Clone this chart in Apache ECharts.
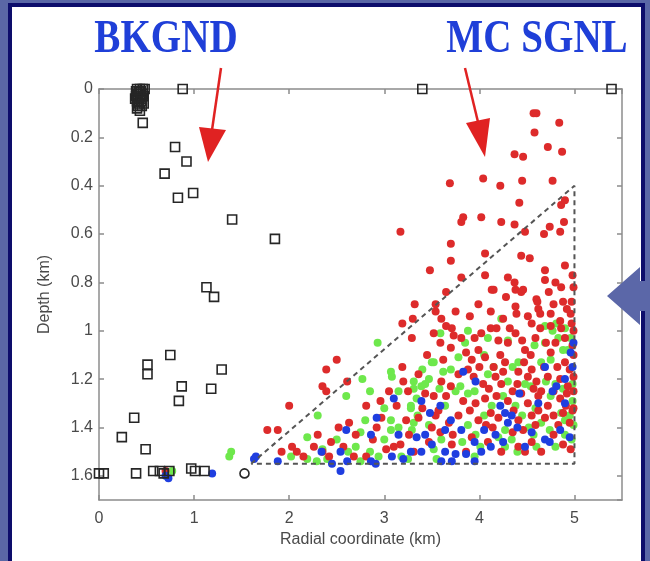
<!DOCTYPE html>
<html><head><meta charset="utf-8">
<script src="https://cdn.jsdelivr.net/npm/echarts@6/dist/echarts.min.js"></script>
<style>
html,body{margin:0;padding:0;width:650px;height:561px;overflow:hidden;background:#5a67a6;}
#frame{position:absolute;left:8px;top:3px;width:629px;height:570px;border:4px solid #0d0d6b;background:#fff;}
#chart{position:absolute;left:0;top:0;width:650px;height:561px;}
</style></head><body>
<div id="frame"></div><div id="chart"></div>
<script>
// ---- data (radial km, depth km) ----
const X_TICK_LABELS = ['0','1','2','3','4','5'];
const Y_TICK_LABELS = ['0','0.2','0.4','0.6','0.8','1','1.2','1.4','1.6'];

const BKGND = [
[0.40,0.00],[0.43,0.00],[0.46,0.00],[0.48,0.00],[0.39,0.01],[0.44,0.01],[0.41,0.02],[0.46,0.02],[0.39,0.03],[0.43,0.03],[0.41,0.04],[0.45,0.04],[0.40,0.05],[0.42,0.06],[0.40,0.08],[0.43,0.09],[0.46,0.14],
[0.42,0.01],[0.47,0.03],[0.38,0.04],[0.44,0.05],[0.47,0.06],[0.41,0.07],[0.45,0.07],
[0.88,0.00],[3.40,0.00],[5.39,0.00],
[0.80,0.24],[0.92,0.30],[0.69,0.35],[0.99,0.43],[0.83,0.45],[1.40,0.54],[1.85,0.62],[1.13,0.82],[1.21,0.86],
[0.75,1.10],[0.51,1.14],[1.29,1.16],[0.51,1.18],[0.87,1.23],[1.18,1.24],[0.84,1.29],[0.37,1.36],[0.24,1.44],[0.49,1.49],
[0.00,1.59],[0.05,1.59],[0.39,1.59],[0.57,1.58],[0.64,1.58],[0.68,1.59],[0.74,1.58],[0.97,1.57],[1.01,1.58],[1.11,1.58]
];
const BKGND_CIRCLE = [[1.53,1.59]];

const SIG_RED = [
[4.57,0.10],[4.60,0.10],[4.84,0.14],[4.58,0.18],[4.72,0.24],[4.87,0.26],[4.37,0.27],[4.46,0.28],
[3.69,0.39],[4.04,0.37],[4.22,0.40],[4.45,0.38],[4.77,0.38],
[4.42,0.47],[4.86,0.48],[4.90,0.46],
[3.81,0.55],[3.83,0.53],[4.02,0.53],[4.23,0.55],[4.37,0.56],[4.74,0.57],[4.89,0.55],[3.17,0.59],
[4.48,0.59],[4.68,0.60],[4.85,0.59],
[3.70,0.64],[3.70,0.71],[4.06,0.68],[4.44,0.69],[4.53,0.70],
[3.48,0.75],[4.06,0.77],[4.30,0.78],[4.37,0.80],[4.38,0.83],[4.46,0.83],[4.69,0.75],[4.69,0.79],[4.80,0.80],[4.86,0.82],[4.90,0.73],[4.98,0.77],[4.15,0.83],[3.65,0.84],[3.32,0.89],[3.99,0.89],[4.28,0.86],[4.60,0.87],[4.88,0.88],
[3.81,0.78],[4.13,0.83],[4.73,0.84],[4.44,0.84],[4.12,0.92],[4.38,0.90],[4.39,0.93],[4.61,0.88],[4.62,0.91],[4.51,0.94],[3.54,0.89],[3.54,0.92],[3.60,0.95],[3.19,0.97],[3.30,0.95],[4.64,0.93],[4.75,0.93],[4.85,0.96],[4.96,0.93],[4.97,0.97],
[3.29,1.03],[2.50,1.12],[2.39,1.16],[3.19,1.15],[2.61,1.21],[3.20,1.21],[2.35,1.23],[2.39,1.25],[2.00,1.31],[1.77,1.41],[1.88,1.41],[2.52,1.40],[2.63,1.38],[2.81,1.31],[2.96,1.29],[3.13,1.31],[2.97,1.36],[3.17,1.47],[1.92,1.50],[2.03,1.48],[2.08,1.50],[2.42,1.52],[2.68,1.52],[2.81,1.52],[3.02,1.49],[3.10,1.48],[3.26,1.43],[2.26,1.48],[2.44,1.46],[2.35,1.50],
[3.52,1.01],[3.59,1.05],[3.71,0.99],[3.73,1.02],[3.81,1.03],[4.02,1.01],[4.12,0.99],[4.18,0.99],[4.32,0.99],[4.38,1.01],[4.59,1.03],[4.64,0.99],[4.75,0.98],[4.86,0.99],[4.90,1.03],
[3.70,1.07],[3.86,1.09],[3.99,1.08],[4.06,1.11],[4.22,1.10],[4.27,1.13],[4.48,1.08],[4.54,1.10],[4.75,1.09],[4.90,1.13],[4.99,1.10],
[3.60,1.21],[3.70,1.23],[3.88,1.16],[3.94,1.19],[4.04,1.22],[4.17,1.19],[4.23,1.22],[4.41,1.17],[4.51,1.19],[4.60,1.21],[4.72,1.19],[4.85,1.20],[4.93,1.23],[4.99,1.19],[3.36,1.18],
[3.43,1.26],[3.52,1.27],[3.83,1.29],[3.96,1.30],[4.06,1.28],[4.18,1.27],[4.30,1.29],[4.44,1.26],[4.51,1.30],[4.62,1.27],[4.72,1.31],[4.85,1.28],[4.91,1.31],[3.57,1.33],
[3.36,1.36],[3.54,1.35],[3.68,1.38],[3.78,1.35],[3.99,1.37],[4.07,1.39],[4.20,1.36],[4.41,1.37],[4.46,1.41],[4.59,1.39],[4.69,1.36],[4.83,1.39],[4.95,1.38],[3.59,1.42],[3.47,1.46],
[3.31,1.50],[3.71,1.47],[3.86,1.50],[4.09,1.46],[4.23,1.50],[4.41,1.48],[4.48,1.50],[4.65,1.50],[4.96,1.49],
[4.80,1.05],[4.68,1.15],[4.95,1.16],[4.78,1.25],[4.57,1.24],[4.40,1.22],[4.88,1.34],[4.62,1.33],[4.30,1.05],[4.15,1.15],[3.92,1.12],[4.47,1.13],
[3.45,1.10],[3.62,1.12],[3.78,1.18],[4.00,1.15],[4.10,1.24],[4.25,1.17],[4.35,1.25],[4.55,1.16],[4.65,1.25],[4.82,1.15],[4.92,1.26],[4.70,1.05],[4.45,1.04],[4.20,1.04],[3.95,1.03],[3.65,0.98],[4.55,0.97],[4.92,0.91],[4.78,0.89],[4.25,0.95],[3.90,0.94],[3.75,0.92],
[3.50,1.40],[3.72,1.43],[3.92,1.44],[4.14,1.40],[4.35,1.42],[4.55,1.46],[4.78,1.43],[4.88,1.47],[3.40,1.32],[3.65,1.27],[3.90,1.33],[4.12,1.34],[4.36,1.33],[4.55,1.35],[4.78,1.35],[4.98,1.33],
[3.25,1.25],[3.05,1.25],[2.88,1.45],[2.70,1.43],[2.57,1.48],[2.30,1.43],[2.15,1.52],[2.92,1.40],[3.23,1.37],
[4.99,0.82],[4.97,0.88],[4.99,1.00],[4.98,1.06],[4.99,1.25],[4.99,1.32],
[0.70,1.58]
];

const SIG_GREEN = [
[2.93,1.05],[2.77,1.20],[3.08,1.19],[2.30,1.35],[2.19,1.44],[2.80,1.37],[3.07,1.37],[3.28,1.32],[2.94,1.52],[3.07,1.41],[2.70,1.48],[2.02,1.52],[2.19,1.53],[2.29,1.54],[3.18,1.52],[3.31,1.38],[1.39,1.50],[1.37,1.52],[2.35,1.49],[3.07,1.17],[3.31,1.24],[3.52,1.13],[3.47,1.20],[3.39,1.23],
[4.23,0.95],[4.81,0.97],[4.69,0.98],[4.90,0.99],[4.77,1.00],
[3.59,1.01],[3.88,1.00],[4.09,1.03],[4.30,1.04],[4.69,1.05],[4.83,1.03],[4.96,1.03],
[3.50,1.13],[3.78,1.11],[4.15,1.15],[4.41,1.13],[4.65,1.13],[4.93,1.08],
[3.31,1.21],[3.43,1.22],[3.80,1.23],[4.09,1.18],[4.30,1.21],[4.54,1.23],[4.80,1.22],[4.98,1.22],
[3.28,1.31],[3.34,1.28],[3.64,1.31],[3.75,1.25],[3.88,1.26],[4.13,1.31],[4.38,1.31],[4.59,1.32],[4.75,1.27],[4.98,1.29],[4.86,1.34],
[3.29,1.41],[3.47,1.39],[3.88,1.39],[3.96,1.43],[4.27,1.41],[4.34,1.45],[4.57,1.43],[4.74,1.41],[4.90,1.43],[4.99,1.39],
[3.52,1.49],[4.01,1.48],[4.27,1.48],[4.80,1.48],
[3.62,1.17],[3.70,1.16],[2.60,1.27],[2.85,1.25],[2.50,1.45],[2.75,1.42],[3.00,1.32],[3.15,1.25],
[3.40,1.16],[3.58,1.24],[3.95,1.25],[4.05,1.35],[4.25,1.27],[4.48,1.22],[4.70,1.21],[4.88,1.24],[4.95,1.35],[4.65,1.38],[4.45,1.35],[4.20,1.44],[3.82,1.46],[3.60,1.45],[3.35,1.35],[3.15,1.40],[3.00,1.45],[2.85,1.50],[2.62,1.50],[2.40,1.53],[4.52,1.40],[4.90,1.37],[4.97,1.45],[4.60,1.48],[4.40,1.50],[3.95,1.52],[3.55,1.53],[3.25,1.53],[2.75,1.54],[4.05,1.10],[4.58,1.06],[4.88,1.08],[3.85,1.05],[4.75,1.12],[4.35,1.15],
[0.77,1.58]
];

const SIG_BLUE = [
[2.60,1.41],[3.10,1.28],[2.92,1.36],[2.86,1.43],[3.15,1.43],[1.63,1.53],[1.65,1.52],[1.88,1.54],[2.34,1.50],[2.45,1.55],[2.54,1.50],[2.54,1.58],[2.61,1.54],[2.86,1.54],[2.91,1.55],[3.08,1.52],[3.28,1.50],
[3.83,1.17],[4.69,1.15],[4.96,1.09],[4.98,1.15],[3.96,1.21],[4.77,1.25],[4.81,1.23],[3.39,1.29],[3.59,1.31],[4.22,1.31],[4.27,1.34],[4.34,1.35],[3.34,1.44],[3.43,1.43],[3.64,1.41],[3.81,1.41],[4.17,1.43],[4.30,1.38],[4.69,1.45],[4.74,1.46],[4.95,1.44],[3.39,1.50],[3.64,1.50],[3.71,1.54],[3.75,1.51],[3.86,1.51],[4.02,1.50],[4.12,1.48],[4.48,1.48],
[3.50,1.47],[3.95,1.46],[4.25,1.46],[4.55,1.42],[4.85,1.41],[4.90,1.30],[4.62,1.30],[4.40,1.40],[3.70,1.37],[3.48,1.34],[4.05,1.41],[3.20,1.53],[3.95,1.54],[4.90,1.20],[4.99,1.05],[4.42,1.26],[3.60,1.54],
[0.70,1.60],[0.73,1.61],[1.19,1.59]
];

// dashed acceptance region boundary
const CUT_BOUNDARY = [[1.60,1.55],[5.00,0.40],[5.00,1.55],[1.60,1.55]];

// ---- chart ----
const chart = echarts.init(document.getElementById('chart'), null, {renderer:'canvas'});
const axisColor = '#8c8c8c';
const labelColor = '#4a4a4a';
const font = 'Liberation Sans';
const lineSt = {color: axisColor, width: 1.5};

function xFmt(v){ const i = Math.round(v); return X_TICK_LABELS[i] !== undefined && Math.abs(v-i)<1e-6 ? X_TICK_LABELS[i] : ''; }
function yFmt(v){ const i = Math.round(v/0.2); return Y_TICK_LABELS[i] !== undefined && Math.abs(v-i*0.2)<1e-6 ? Y_TICK_LABELS[i] : ''; }

const dot = (data, color) => ({
  type: 'scatter', data, symbol: 'circle', symbolSize: 8,
  itemStyle: {color, opacity: 1}, z: 3, silent: true
});

chart.setOption({
  backgroundColor: 'transparent',
  animation: false,
  grid: {left: 99, right: 28, top: 89, bottom: 61},
  xAxis: [
    {type:'value', min:0, max:5.5, interval:1, position:'bottom',
     name:'Radial coordinate (km)', nameLocation:'middle', nameGap:32,
     nameTextStyle:{color:labelColor, fontFamily:font, fontSize:16},
     axisLine:{show:true, onZero:false, lineStyle:lineSt},
     axisTick:{show:true, inside:true, length:5, lineStyle:lineSt},
     axisLabel:{color:labelColor, fontFamily:font, fontSize:16, margin:11, showMaxLabel:false, formatter:xFmt},
     splitLine:{show:false}},
    {type:'value', min:0, max:5.5, interval:1, position:'top',
     axisLine:{show:true, onZero:false, lineStyle:lineSt},
     axisTick:{show:true, inside:true, length:5, lineStyle:lineSt},
     axisLabel:{show:false}, splitLine:{show:false}}
  ],
  yAxis: [
    {type:'value', inverse:true, min:0, max:1.7, interval:0.2, position:'left',
     name:'Depth (km)', nameLocation:'middle', nameGap:46, nameRotate:90,
     nameTextStyle:{color:labelColor, fontFamily:font, fontSize:16},
     axisLine:{show:true, onZero:false, lineStyle:lineSt},
     axisTick:{show:true, inside:true, length:5, lineStyle:lineSt},
     axisLabel:{color:labelColor, fontFamily:font, fontSize:16, margin:6, showMaxLabel:false, formatter:yFmt},
     splitLine:{show:false}},
    {type:'value', inverse:true, min:0, max:1.7, interval:0.2, position:'right',
     axisLine:{show:true, onZero:false, lineStyle:lineSt},
     axisTick:{show:true, inside:true, length:5, lineStyle:lineSt},
     axisLabel:{show:false}, splitLine:{show:false}}
  ],
  series: [
    dot(SIG_GREEN, '#6ee84c'),
    dot(SIG_RED, '#dd2b2b'),
    dot(SIG_BLUE, '#1f3ee0'),
    {type:'scatter', data: BKGND, symbol:'rect', symbolSize:9,
     itemStyle:{color:'rgba(255,255,255,0)', borderColor:'#262626', borderWidth:1.6, opacity:1}, z:4, silent:true},
    {type:'scatter', data: BKGND_CIRCLE, symbol:'circle', symbolSize:9,
     itemStyle:{color:'rgba(255,255,255,0)', borderColor:'#262626', borderWidth:1.6, opacity:1}, z:4, silent:true},
    {type:'line', data: CUT_BOUNDARY, showSymbol:false, symbol:'none',
     lineStyle:{type:[5,4], color:'#555555', width:2}, z:5, silent:true}
  ],
  graphic: [
    {type:'text', x:166, y:40, scaleX:0.85, z:10,
     style:{text:'BKGND', fill:'#1f3fd8', font:'bold 46px "Liberation Serif"', textAlign:'center', textVerticalAlign:'middle'}},
    {type:'text', x:537, y:40, scaleX:0.85, z:10,
     style:{text:'MC SGNL', fill:'#1f3fd8', font:'bold 46px "Liberation Serif"', textAlign:'center', textVerticalAlign:'middle'}},
    // red arrows
    {type:'line', z:10, shape:{x1:221, y1:68, x2:212, y2:130}, style:{stroke:'#e02222', lineWidth:2.5}},
    {type:'polygon', z:10, shape:{points:[[199,127],[226,130],[208,162]]}, style:{fill:'#e02222'}},
    {type:'line', z:10, shape:{x1:465, y1:68, x2:478, y2:122}, style:{stroke:'#e02222', lineWidth:2.5}},
    {type:'polygon', z:10, shape:{points:[[466,123],[490,118],[485,157]]}, style:{fill:'#e02222'}},
    // big blue pointer
    {type:'polygon', z:10, shape:{points:[[607,296],[640,267],[640,281],[650,281],[650,311],[640,311],[640,325]]}, style:{fill:'#5b67a8'}}
  ]
});
</script></body></html>
